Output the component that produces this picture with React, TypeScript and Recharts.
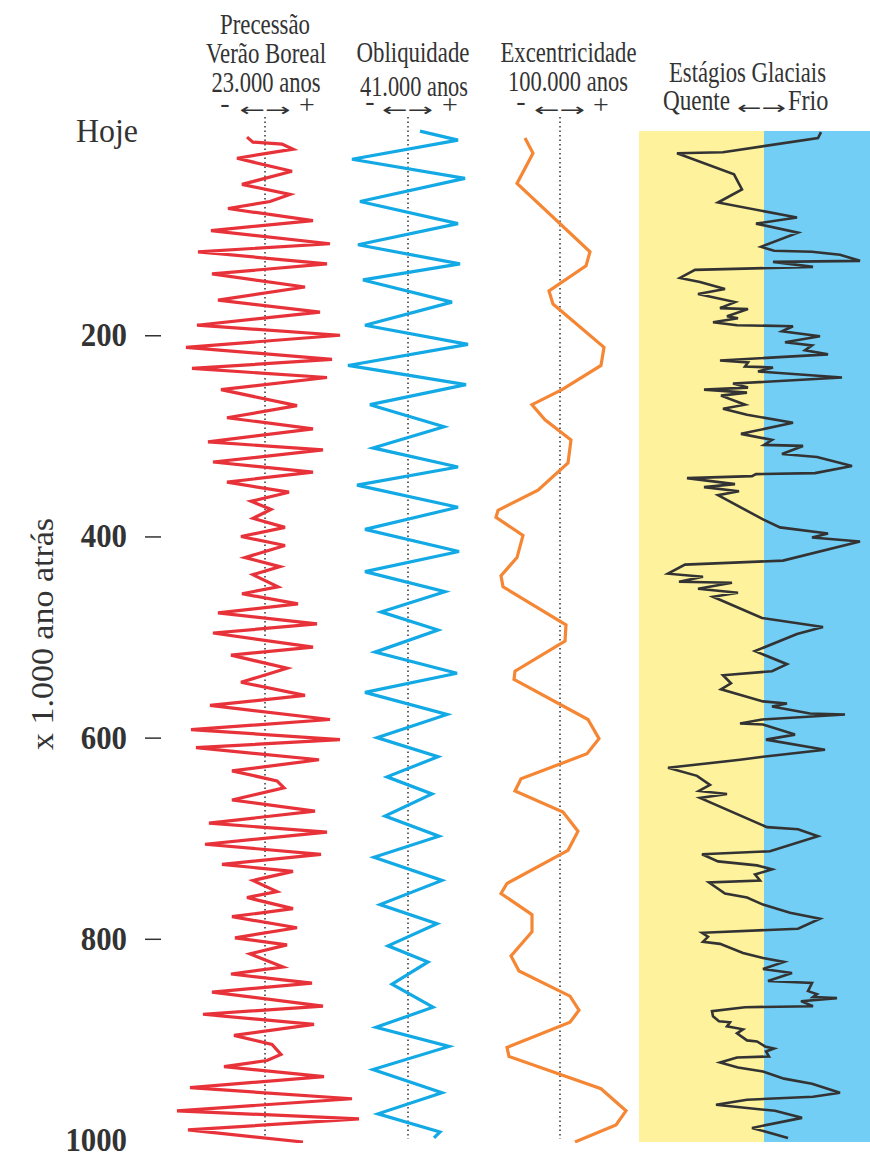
import React from "react";
import { LineChart, Line, XAxis, YAxis, ReferenceLine, ReferenceArea } from "recharts";

// tempo em mil anos antes do presente; valores em unidades relativas
const precessaoTempo = [4, 9, 11, 16, 25, 38, 51, 61, 68, 75, 87, 97, 110, 118, 130, 140, 153, 166, 178, 191, 201, 213, 225, 234, 243, 255, 271, 283, 294, 307, 315, 327, 337, 347, 357, 366, 374, 383, 392, 401, 410, 422, 431, 439, 451, 458, 468, 477, 488, 497, 511, 519, 532, 546, 559, 569, 583, 593, 603, 611, 623, 634, 644, 651, 663, 674, 686, 695, 707, 717, 727, 734, 743, 754, 760, 771, 779, 790, 800, 807, 816, 829, 836, 845, 854, 868, 876, 886, 897, 906, 916, 922, 928, 938, 949, 960, 972, 980, 991, 1003];
const precessaoValor = [-1.8, -1.2, 1.7, 2.8, -2.8, 2.7, -2.3, 2.5, 0.5, -3.7, 4.8, -5.4, 6.5, -6.7, 6.2, -5.3, 4.0, -4.7, 5.5, -6.8, 7.5, -7.9, 6.7, -7.3, 6.2, -4.4, 3.2, -3.8, 4.8, -5.7, 5.8, -5.2, 4.8, -3.8, 2.4, -1.4, 0.6, -1.2, 2.0, -2.4, 2.0, -2.0, 1.5, -1.2, 1.3, -2.3, 3.3, -4.7, 5.2, -5.2, 4.8, -3.4, 2.2, -2.4, 4.0, -5.5, 6.5, -7.4, 7.5, -6.9, 5.4, -3.3, 1.2, 1.9, -3.3, 5.0, -5.6, 6.2, -6.0, 5.6, -4.3, 2.8, -1.2, 1.2, -1.8, 2.8, -3.3, 3.2, -3.0, 2.2, -1.5, 1.8, -3.4, 4.7, -5.3, 5.8, -6.2, 4.9, -3.1, 0.7, 1.6, 0.2, -4.1, 5.9, -7.5, 8.7, -8.8, 9.4, -7.7, 3.8];

const obliquidadeTempo = [-2, 7, 26, 45, 68, 90, 111, 130, 146, 168, 191, 210, 231, 250, 270, 292, 313, 332, 350, 372, 394, 416, 436, 456, 476, 494, 516, 537, 556, 578, 601, 620, 640, 657, 679, 699, 720, 743, 767, 786, 808, 824, 846, 869, 889, 908, 931, 954, 975, 993, 999];
const obliquidadeValor = [1.2, 5.0, -5.6, 5.7, -4.8, 5.0, -5.0, 5.2, -4.5, 4.4, -4.3, 6.0, -6.0, 5.8, -3.8, 3.6, -3.5, 5.0, -5.1, 5.0, -4.3, 5.1, -4.3, 3.7, -2.7, 3.0, -3.3, 4.9, -4.3, 3.9, -3.1, 3.0, -2.1, 2.4, -2.3, 3.1, -3.4, 3.4, -2.8, 2.9, -2.0, 2.0, -1.6, 2.5, -3.2, 4.1, -3.5, 3.4, -3.0, 3.2, 2.6];

const excentricidadeTempo = [5, 20, 50, 118, 132, 157, 170, 213, 231, 255, 270, 285, 305, 328, 355, 375, 382, 400, 422, 440, 451, 489, 505, 535, 543, 583, 602, 617, 642, 654, 675, 694, 713, 746, 756, 777, 794, 818, 833, 858, 872, 884, 909, 918, 950, 972, 986, 1003];
const excentricidadeValor = [-3.5, -2.7, -4.3, 3.0, 2.6, -1.1, -0.7, 4.4, 4.1, 0.2, -2.8, -1.5, 1.1, 0.8, -2.2, -6.2, -6.4, -3.7, -4.3, -5.9, -5.7, 0.6, 0.5, -4.5, -4.6, 2.8, 3.9, 2.7, -3.9, -4.5, 0.3, 1.8, 0.8, -5.3, -5.9, -2.8, -2.8, -4.9, -4.1, 1.0, 1.9, 1.0, -5.3, -5.1, 4.1, 6.6, 5.6, 1.5];

// estágios glaciais: negativo = quente, positivo = frio
const glacialTempo = [-1, 5, 19, 20, 41, 56, 69, 84, 90, 99, 113, 117, 118, 121, 127, 128, 133, 136, 144, 148, 155, 160, 168, 174, 175, 182, 184, 188, 191, 192, 197, 202, 208, 211, 216, 220, 226, 228, 232, 233, 237, 243, 249, 253, 255, 258, 261, 270, 274, 280, 288, 299, 305, 310, 311, 319, 322, 331, 338, 339, 341, 343, 349, 352, 356, 360, 384, 392, 398, 402, 406, 425, 429, 438, 441, 446, 447, 453, 457, 461, 482, 491, 498, 515, 528, 535, 539, 547, 553, 565, 567, 570, 577, 578, 583, 587, 588, 598, 603, 613, 620, 623, 631, 639, 648, 654, 657, 661, 690, 692, 699, 714, 717, 724, 728, 732, 737, 743, 745, 756, 760, 767, 775, 781, 791, 795, 799, 804, 806, 815, 820, 824, 831, 835, 843, 845, 853, 856, 859, 860, 863, 868, 869, 873, 878, 883, 884, 888, 891, 895, 902, 903, 908, 910, 913, 918, 919, 924, 929, 933, 940, 945, 954, 958, 961, 966, 972, 979, 989, 999];
const glacialValor = [5.7, 5.4, -4.1, -8.7, -3.0, -2.2, -4.6, 3.3, -0.8, 3.4, -0.3, 1.0, 4.8, 7.6, 9.6, 0.9, 4.9, -6.9, -8.4, -6.4, -3.9, -6.6, -2.9, -4.4, -1.6, -3.7, -2.6, -5.1, -2.7, 2.9, 1.8, 5.6, 2.1, 4.8, 4.1, 6.4, -4.4, -1.6, -1.9, 0.9, -0.6, 7.8, -3.1, -1.6, -6.0, -1.7, -4.3, -1.9, -4.1, -1.7, 2.9, -2.3, 0.8, 0.0, 3.9, 1.8, 5.3, 8.8, 5.1, -0.8, -1.2, -7.7, -2.9, -6.0, -2.5, -4.6, -0.1, 1.6, 6.4, 4.8, 9.6, 1.9, -7.9, -9.6, -6.1, -8.5, -3.2, -6.6, -2.6, -5.1, -0.2, 5.9, 3.3, -0.9, 2.3, 0.8, -4.1, -3.3, -4.3, -0.1, 2.3, 0.8, 4.6, 8.1, -0.2, -2.4, -0.1, 3.1, 0.2, 6.1, -0.1, -2.4, -9.6, -6.7, -5.4, -6.5, -3.7, -6.4, 0.3, 3.4, 5.4, 0.6, -6.2, -4.6, -0.7, 0.8, -0.9, -0.4, -5.5, -3.9, -1.7, -0.1, 2.6, 5.6, 3.4, -6.2, -5.6, -6.1, -4.4, -2.1, -0.1, 2.0, -0.1, 2.8, 0.4, 4.8, 4.4, 5.3, 4.9, 7.3, 3.7, 4.9, -1.9, -5.2, -5.1, -4.5, -3.4, -3.7, -2.1, -2.7, -1.7, -0.7, 0.1, 1.0, 0.2, 0.5, -2.7, -4.4, -2.6, -0.1, 2.0, 4.8, 7.6, 4.9, -1.7, -4.8, 1.1, 3.8, -1.2, 2.4];

const ticksTempo = [0, 200, 400, 600, 800, 1000];

const serie = (tempo: number[], valor: number[]) => tempo.map((t, i) => ({ t, v: valor[i] }));
const precessao = serie(precessaoTempo, precessaoValor);
const obliquidade = serie(obliquidadeTempo, obliquidadeValor);
const excentricidade = serie(excentricidadeTempo, excentricidadeValor);
const glacial = serie(glacialTempo, glacialValor);

const SERIF = "'Liberation Serif', 'DejaVu Serif', serif";
const TEXTO = "#333";
const ALTURA = 1152;
const MARGEM = { top: 117, bottom: 9, left: 0, right: 0 };
const DOMINIO_T: [number, number] = [-16, 1004];

type Linha = { texto: string; x: number; y: number; w?: number; ancora?: "start" | "middle" | "end"; fonte?: string; tamanho?: number };

function Cabecalho({ linhas, dx }: { linhas: Linha[]; dx: number }) {
  return (
    <g>
      {linhas.map((l, i) => (
        <text key={i} x={l.x - dx} y={l.y} textAnchor={l.ancora ?? "middle"} fontFamily={l.fonte ?? SERIF}
          fontSize={l.tamanho ?? 29} fill={TEXTO} textLength={l.w} lengthAdjust={l.w ? "spacingAndGlyphs" : undefined}>
          {l.texto}
        </text>
      ))}
    </g>
  );
}

const SETAS = "'DejaVu Sans', sans-serif";
const cabPrecessao: Linha[] = [
  { texto: "Precessão", x: 265, y: 34, w: 90 },
  { texto: "Verão Boreal", x: 266, y: 63, w: 120 },
  { texto: "23.000 anos", x: 266, y: 92, w: 109 },
  { texto: "-", x: 225, y: 112, tamanho: 28 },
  { texto: "←→", x: 265, y: 116, w: 51, fonte: SETAS, tamanho: 18 },
  { texto: "+", x: 307, y: 114, tamanho: 28 },
];
const cabObliquidade: Linha[] = [
  { texto: "Obliquidade", x: 413, y: 62, w: 113 },
  { texto: "41.000 anos", x: 414, y: 96, w: 108 },
  { texto: "-", x: 370, y: 110, tamanho: 28 },
  { texto: "←→", x: 407.5, y: 116, w: 51, fonte: SETAS, tamanho: 18 },
  { texto: "+", x: 450, y: 114, tamanho: 28 },
];
const cabExcentricidade: Linha[] = [
  { texto: "Excentricidade", x: 568.5, y: 62, w: 136 },
  { texto: "100.000 anos", x: 568, y: 91, w: 120 },
  { texto: "-", x: 521, y: 110, tamanho: 28 },
  { texto: "←→", x: 559.5, y: 116, w: 51, fonte: SETAS, tamanho: 18 },
  { texto: "+", x: 601, y: 114, tamanho: 28 },
];
const cabGlacial: Linha[] = [
  { texto: "Estágios Glaciais", x: 747.5, y: 82, w: 157 },
  { texto: "Quente", x: 663, y: 110, w: 67, ancora: "start" },
  { texto: "←→", x: 761.5, y: 114, w: 49, fonte: SETAS, tamanho: 18 },
  { texto: "Frio", x: 788, y: 110, w: 40.5, ancora: "start" },
];

function TickTempo(props: any) {
  const { y, payload } = props;
  const v = payload.value as number;
  const hoje = v === 0;
  const rotulo = hoje ? "Hoje" : String(v);
  return (
    <g>
      <text x={hoje ? 138 : 127} y={y + (hoje ? 9 : 12)} textAnchor="end" fontFamily={SERIF} fontSize={34}
        fontWeight={hoje ? 400 : 700} fill={TEXTO} textLength={hoje ? 62 : rotulo.length * 15.4} lengthAdjust="spacingAndGlyphs">
        {rotulo}
      </text>
      {!hoje && v < 1000 && <line x1={145} x2={161} y1={y + 1.5} y2={y + 1.5} stroke={TEXTO} strokeWidth={1.5} />}
    </g>
  );
}

function TituloEixo() {
  return (
    <text x={53} y={634} transform="rotate(-90 53 634)" textAnchor="middle" fontFamily={SERIF} fontSize={31}
      fill={TEXTO} textLength={232} lengthAdjust="spacingAndGlyphs">
      x 1.000 ano atrás
    </text>
  );
}

const pontilhado = { stroke: TEXTO, strokeWidth: 1.5, strokeDasharray: "1.5 3" };
const eixoT = (props: any = {}) => (
  <YAxis type="number" dataKey="t" domain={DOMINIO_T} allowDataOverflow hide {...props} />
);

export default function App() {
  return (
    <div style={{ position: "absolute", left: 0, top: 0, width: 870, height: ALTURA, background: "#fff" }}>
      <div style={{ position: "absolute", left: 0, top: 0 }}>
        <LineChart width={370} height={ALTURA} data={precessao} layout="vertical" margin={MARGEM}>
          <XAxis type="number" domain={[-10.5, 10.5]} allowDataOverflow hide />
          {eixoT({ hide: false, width: 160, ticks: ticksTempo, interval: 0, axisLine: false, tickLine: false, tick: <TickTempo />, label: <TituloEixo /> })}
          <ReferenceLine segment={[{ x: 0, y: -16 }, { x: 0, y: 1000 }]} {...pontilhado}
            label={<Cabecalho linhas={cabPrecessao} dx={0} />} />
          <Line type="linear" dataKey="v" stroke="#E8323A" strokeWidth={3.2} dot={false} activeDot={false} isAnimationActive={false} />
        </LineChart>
      </div>
      <div style={{ position: "absolute", left: 340, top: 0 }}>
        <LineChart width={140} height={ALTURA} data={obliquidade} layout="vertical" margin={MARGEM}>
          <XAxis type="number" domain={[-6.8, 7.2]} allowDataOverflow hide />
          {eixoT()}
          <ReferenceLine segment={[{ x: 0, y: -16 }, { x: 0, y: 1000 }]} {...pontilhado}
            label={<Cabecalho linhas={cabObliquidade} dx={340} />} />
          <Line type="linear" dataKey="v" stroke="#12A9E5" strokeWidth={3.2} dot={false} activeDot={false} isAnimationActive={false} />
        </LineChart>
      </div>
      <div style={{ position: "absolute", left: 480, top: 0 }}>
        <LineChart width={160} height={ALTURA} data={excentricidade} layout="vertical" margin={MARGEM}>
          <XAxis type="number" domain={[-8, 8]} allowDataOverflow hide />
          {eixoT()}
          <ReferenceLine segment={[{ x: 0, y: -16 }, { x: 0, y: 1000 }]} {...pontilhado}
            label={<Cabecalho linhas={cabExcentricidade} dx={480} />} />
          <Line type="linear" dataKey="v" stroke="#F58634" strokeWidth={3.2} dot={false} activeDot={false} isAnimationActive={false} />
        </LineChart>
      </div>
      <div style={{ position: "absolute", left: 639, top: 0 }}>
        <LineChart width={231} height={ALTURA} data={glacial} layout="vertical" margin={MARGEM}>
          <XAxis type="number" domain={[-12.5, 10.6]} allowDataOverflow hide />
          {eixoT()}
          <ReferenceArea x1={-12.5} x2={0} y1={-2} y2={1003} fill="#FEF29C" fillOpacity={1} stroke="none"
            label={<Cabecalho linhas={cabGlacial} dx={639} />} />
          <ReferenceArea x1={0} x2={10.6} y1={-2} y2={1003} fill="#72CEF5" fillOpacity={1} stroke="none" />
          <Line type="linear" dataKey="v" stroke="#333" strokeWidth={2.6} dot={false} activeDot={false} isAnimationActive={false} />
        </LineChart>
      </div>
    </div>
  );
}
